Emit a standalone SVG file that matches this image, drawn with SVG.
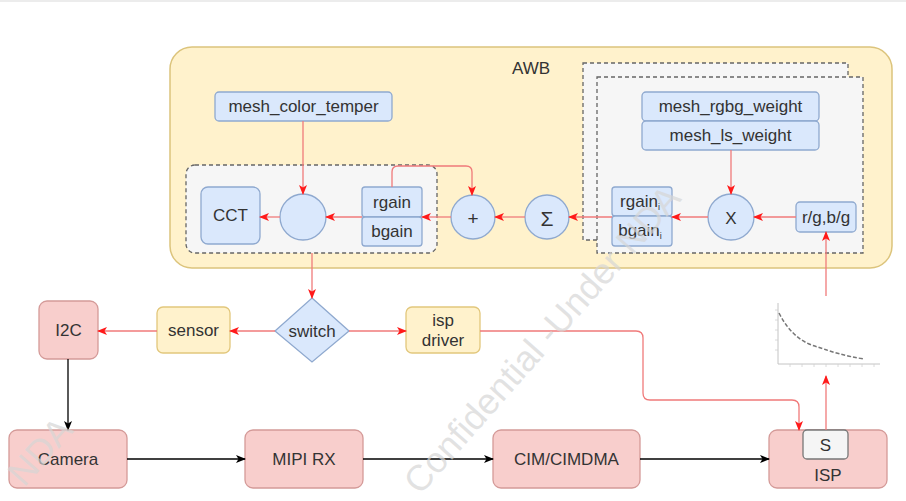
<svg xmlns="http://www.w3.org/2000/svg" width="906" height="501" viewBox="0 0 906 501">
<defs>
<marker id="ar" viewBox="0 0 10 8" refX="9" refY="4" markerWidth="10" markerHeight="8" markerUnits="userSpaceOnUse" orient="auto">
<path d="M0,0 L10,4 L0,8 L2.5,4 Z" fill="#ff1a1a"/>
</marker>
<marker id="ab" viewBox="0 0 10 8" refX="9" refY="4" markerWidth="10" markerHeight="8" markerUnits="userSpaceOnUse" orient="auto">
<path d="M0,0 L10,4 L0,8 L2.5,4 Z" fill="#000"/>
</marker>
<style>
text{font-family:"Liberation Sans",Arial,sans-serif;font-size:17px;fill:#333;text-anchor:middle;dominant-baseline:central}
.blue{fill:#dae8fc;stroke:#8fa9cf;stroke-width:1.3}
.pink{fill:#f8cecc;stroke:#d49a98;stroke-width:1.3}
.yel{fill:#fff2cc;stroke:#e2c77c;stroke-width:1.3}
.grp{fill:#f6f6f6;stroke:#666;stroke-width:1.3;stroke-dasharray:4 3}
.red{fill:none;stroke:#f07a7a;stroke-width:1.3;marker-end:url(#ar)}
.blk{fill:none;stroke:#000;stroke-width:1.3;marker-end:url(#ab)}
.wm{font-size:36px;fill:#d6d6d6;fill-opacity:0.7;text-anchor:start;dominant-baseline:auto}
</style>
</defs>
<rect x="0" y="0" width="906" height="2" fill="#ececec"/>
<g id="awb">
<rect x="170" y="47" width="722" height="221" rx="22" fill="#fff2cc" stroke="#dcc47c" stroke-width="1.5"/>
<text x="531" y="68">AWB</text>
</g>
<g id="group-left"><rect x="186" y="165" width="251" height="88" rx="9" class="grp"/></g>
<g id="group-right-back"><rect x="583" y="63" width="265" height="177" class="grp"/></g>
<g id="group-right"><rect x="597" y="77" width="266" height="176" class="grp"/></g>
<g id="mesh_color_temper"><rect x="215" y="92" width="177" height="29" rx="4" class="blue"/><text x="303.5" y="106.5">mesh_color_temper</text></g>
<g id="cct"><rect x="201" y="187" width="59" height="57" rx="7" class="blue"/><text x="230.5" y="215.5">CCT</text></g>
<g id="circle"><circle cx="303" cy="217" r="23" class="blue"/></g>
<g id="rgain"><rect x="362" y="187" width="60" height="30" rx="3" class="blue"/><text x="392" y="202">rgain</text></g>
<g id="bgain"><rect x="362" y="217" width="60" height="29" rx="3" class="blue"/><text x="392" y="231.5">bgain</text></g>
<g id="plus"><circle cx="473" cy="217" r="22" class="blue"/><text x="473" y="218" style="font-size:19px">+</text></g>
<g id="sigma"><circle cx="547" cy="217" r="22" class="blue"/><text x="547" y="218" style="font-size:21px">Σ</text></g>
<g id="mesh_rgbg_weight"><rect x="642" y="92" width="177" height="29" rx="4" class="blue"/><text x="730.5" y="106.5">mesh_rgbg_weight</text></g>
<g id="mesh_ls_weight"><rect x="642" y="121" width="177" height="29" rx="4" class="blue"/><text x="730.5" y="135.5">mesh_ls_weight</text></g>
<g id="rgain_i"><rect x="612" y="187" width="60" height="29" rx="3" class="blue"/><text x="640" y="201.5">rgain<tspan style="font-size:9px" dy="5">i</tspan></text></g>
<g id="bgain_i"><rect x="612" y="216" width="60" height="30" rx="3" class="blue"/><text x="640" y="230.5">bgain<tspan style="font-size:9px" dy="5">i</tspan></text></g>
<g id="mult"><circle cx="731" cy="217" r="23" class="blue"/><text x="731" y="218">X</text></g>
<g id="rg_bg"><rect x="796" y="202" width="60" height="30" rx="4" class="blue"/><text x="826" y="217">r/g,b/g</text></g>
<g id="chart">
<path d="M778,303 V364 H880" fill="none" stroke="#c4c4c4" stroke-width="1"/>
<path d="M775,310 H778 M775,320 H778 M775,330 H778 M775,340 H778 M775,350 H778 M790,364 V367 M802,364 V367 M814,364 V367 M826,364 V367 M838,364 V367 M850,364 V367 M862,364 V367 M874,364 V367" stroke="#d0d0d0" stroke-width="0.8"/>
<path d="M779,313 C790,335 805,344 818,347 C832,352 845,356 864,359" fill="none" stroke="#777" stroke-width="1.5" stroke-dasharray="4 2"/>
</g>
<g id="switch"><polygon points="312,298 349,331 312,362 275,331" class="blue"/><text x="312" y="331">switch</text></g>
<g id="sensor"><rect x="157" y="307" width="73" height="46" rx="6" class="yel"/><text x="193.5" y="330">sensor</text></g>
<g id="isp_driver"><rect x="406" y="307" width="74" height="46" rx="6" class="yel"/><text x="443" y="320">isp</text><text x="443" y="340">driver</text></g>
<g id="i2c"><rect x="39" y="301" width="59" height="58" rx="8" class="pink"/><text x="68.5" y="330">I2C</text></g>
<g id="camera"><rect x="9" y="430" width="118" height="58" rx="8" class="pink"/><text x="68" y="459">Camera</text></g>
<g id="mipi_rx"><rect x="245" y="430" width="118" height="58" rx="8" class="pink"/><text x="304" y="459">MIPI RX</text></g>
<g id="cim"><rect x="493" y="430" width="147" height="58" rx="8" class="pink"/><text x="566.5" y="459">CIM/CIMDMA</text></g>
<g id="isp"><rect x="769" y="430" width="118" height="58" rx="8" class="pink"/><text x="828" y="475">ISP</text></g>
<g id="s"><rect x="803" y="430" width="45" height="29" rx="4" fill="#f5f5f5" stroke="#777" stroke-width="1.3"/><text x="825.5" y="445">S</text></g>
<g id="connectors">
<path class="red" d="M303,121 V194"/>
<path class="red" d="M280,217 H260"/>
<path class="red" d="M362,217 H326"/>
<path class="red" d="M451,217 H422"/>
<path class="red" d="M392,187 V172 Q392,166 398,166 H466 Q472,166 472,172 V195"/>
<path class="red" d="M525,217 H495"/>
<path class="red" d="M612,217 H569"/>
<path class="red" d="M708,217 H672"/>
<path class="red" d="M796,217 H754"/>
<path class="red" d="M731,150 V194"/>
<path class="red" d="M826,296 V232"/>
<path class="red" d="M826,430 V376"/>
<path class="red" d="M312,253 V298"/>
<path class="red" d="M275,331 H230"/>
<path class="red" d="M157,331 H98"/>
<path class="red" d="M349,331 H406"/>
<path class="red" d="M480,331 H636 Q643,331 643,338 V393 Q643,400 650,400 H792 Q799,400 799,407 V430"/>
<path class="blk" d="M68,359 V430"/>
<path class="blk" d="M127,459 H245"/>
<path class="blk" d="M363,459 H493"/>
<path class="blk" d="M640,459 H769"/>
</g>
<g id="watermark">
<text class="wm" transform="translate(420,496) rotate(-48.5)">Confidential -Under NDA</text>
<text class="wm" transform="translate(24,488) rotate(-48.5)">NDA</text>
</g>
</svg>
